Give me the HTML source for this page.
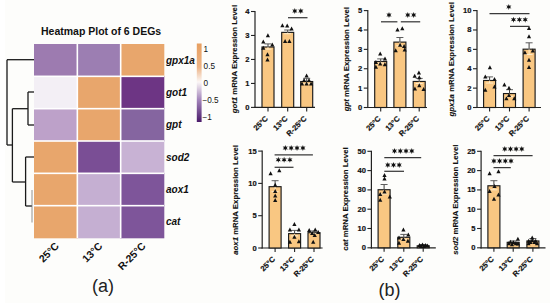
<!DOCTYPE html>
<html><head><meta charset="utf-8"><title>Heatmap and bar charts</title>
<style>
html,body{margin:0;padding:0;background:#fff;}
body{width:550px;height:303px;overflow:hidden;}
svg{display:block;}
text{font-family:"Liberation Sans", sans-serif;}
</style></head><body>
<svg width="550" height="303" viewBox="0 0 550 303">
<rect x="0" y="0" width="550" height="303" fill="#FDFDFB"/><rect x="0" y="0" width="5" height="303" fill="#fff"/>

<text x="41" y="34.8" font-size="10.5" font-weight="bold" fill="#111">Heatmap Plot of 6 DEGs</text>
<rect x="34.00" y="44.00" width="43.63" height="32.63" fill="#9D7BB0"/>
<rect x="77.33" y="44.00" width="43.63" height="32.63" fill="#9C7EB2"/>
<rect x="120.67" y="44.00" width="43.63" height="32.63" fill="#E8A66C"/>
<rect x="34.00" y="76.33" width="43.63" height="32.63" fill="#F3EFF5"/>
<rect x="77.33" y="76.33" width="43.63" height="32.63" fill="#E8A66C"/>
<rect x="120.67" y="76.33" width="43.63" height="32.63" fill="#6D3584"/>
<rect x="34.00" y="108.67" width="43.63" height="32.63" fill="#BDA1C9"/>
<rect x="77.33" y="108.67" width="43.63" height="32.63" fill="#E8A66C"/>
<rect x="120.67" y="108.67" width="43.63" height="32.63" fill="#8565A0"/>
<rect x="34.00" y="141.00" width="43.63" height="32.63" fill="#E8A66C"/>
<rect x="77.33" y="141.00" width="43.63" height="32.63" fill="#7A4E95"/>
<rect x="120.67" y="141.00" width="43.63" height="32.63" fill="#C8B2D4"/>
<rect x="34.00" y="173.33" width="43.63" height="32.63" fill="#E8A66C"/>
<rect x="77.33" y="173.33" width="43.63" height="32.63" fill="#C5AFD2"/>
<rect x="120.67" y="173.33" width="43.63" height="32.63" fill="#7E559A"/>
<rect x="34.00" y="205.67" width="43.63" height="32.63" fill="#E8A66C"/>
<rect x="77.33" y="205.67" width="43.63" height="32.63" fill="#C5AFD2"/>
<rect x="120.67" y="205.67" width="43.63" height="32.63" fill="#7E559A"/>
<rect x="76.53" y="44" width="1.6" height="194" fill="#fff"/>
<rect x="119.87" y="44" width="1.6" height="194" fill="#fff"/>
<rect x="34" y="75.53" width="130" height="1.6" fill="#fff"/>
<rect x="34" y="107.87" width="130" height="1.6" fill="#fff"/>
<rect x="34" y="140.20" width="130" height="1.6" fill="#fff"/>
<rect x="34" y="172.53" width="130" height="1.6" fill="#fff"/>
<rect x="34" y="204.87" width="130" height="1.6" fill="#fff"/>
<text x="166" y="63.77" font-size="10" font-weight="bold" font-style="italic" fill="#111">gpx1a</text>
<text x="166" y="96.10" font-size="10" font-weight="bold" font-style="italic" fill="#111">got1</text>
<text x="166" y="128.43" font-size="10" font-weight="bold" font-style="italic" fill="#111">gpt</text>
<text x="166" y="160.77" font-size="10" font-weight="bold" font-style="italic" fill="#111">sod2</text>
<text x="166" y="193.10" font-size="10" font-weight="bold" font-style="italic" fill="#111">aox1</text>
<text x="166" y="225.43" font-size="10" font-weight="bold" font-style="italic" fill="#111">cat</text>
<text x="59.67" y="246.60" font-size="10.4" font-weight="bold" fill="#111" text-anchor="end" transform="rotate(-45 59.67 246.60)">25°C</text>
<text x="103.00" y="246.60" font-size="10.4" font-weight="bold" fill="#111" text-anchor="end" transform="rotate(-45 103.00 246.60)">13°C</text>
<text x="146.33" y="246.60" font-size="10.4" font-weight="bold" fill="#111" text-anchor="end" transform="rotate(-45 146.33 246.60)">R-25°C</text>
<line x1="7" y1="59.7" x2="7" y2="145" stroke="#1a1a1a" stroke-width="1.3"/>
<line x1="7" y1="59.7" x2="34" y2="59.7" stroke="#1a1a1a" stroke-width="1.3"/>
<line x1="7" y1="145" x2="12.4" y2="145" stroke="#1a1a1a" stroke-width="1.3"/>
<line x1="12.4" y1="108.7" x2="12.4" y2="182" stroke="#1a1a1a" stroke-width="1.3"/>
<line x1="12.4" y1="108.7" x2="28" y2="108.7" stroke="#1a1a1a" stroke-width="1.3"/>
<line x1="12.4" y1="182" x2="25.6" y2="182" stroke="#1a1a1a" stroke-width="1.3"/>
<line x1="28" y1="92" x2="28" y2="125" stroke="#1a1a1a" stroke-width="1.3"/>
<line x1="28" y1="92" x2="34" y2="92" stroke="#1a1a1a" stroke-width="1.3"/>
<line x1="28" y1="125" x2="34" y2="125" stroke="#1a1a1a" stroke-width="1.3"/>
<line x1="25.6" y1="157" x2="25.6" y2="206" stroke="#1a1a1a" stroke-width="1.3"/>
<line x1="25.6" y1="157" x2="34" y2="157" stroke="#1a1a1a" stroke-width="1.3"/>
<line x1="25.6" y1="206" x2="32" y2="206" stroke="#1a1a1a" stroke-width="1.3"/>
<line x1="32" y1="190" x2="32" y2="222.5" stroke="#777" stroke-width="0.8"/>
<defs><linearGradient id="cb" x1="0" y1="0" x2="0" y2="1">
<stop offset="0" stop-color="#E79F60"/>
<stop offset="0.3" stop-color="#ECB385"/>
<stop offset="0.49" stop-color="#FBF7F6"/>
<stop offset="0.72" stop-color="#A284BA"/>
<stop offset="1" stop-color="#4A1A6A"/>
</linearGradient></defs>
<rect x="196.8" y="43.5" width="4.8" height="78.5" fill="url(#cb)"/>
<text x="203.6" y="51.9" font-size="8.2" fill="#111">1</text>
<text x="203.6" y="68.9" font-size="8.2" fill="#111">0.5</text>
<text x="203.6" y="85.8" font-size="8.2" fill="#111">0</text>
<text x="202.4" y="102.9" font-size="8.2" fill="#111">−0.5</text>
<text x="202.4" y="120.1" font-size="8.2" fill="#111">−1</text>
<text x="92" y="292" font-size="18" fill="#222">(a)</text>
<text x="378.5" y="295.8" font-size="18" fill="#222">(b)</text>
<line x1="255" y1="10.9" x2="255" y2="108.0" stroke="#222" stroke-width="1.2"/>
<line x1="254.4" y1="107.4" x2="315" y2="107.4" stroke="#222" stroke-width="1.2"/>
<line x1="251" y1="107.40" x2="255" y2="107.40" stroke="#222" stroke-width="1.1"/>
<text x="249.5" y="109.90" font-size="7.6" font-weight="bold" fill="#111" stroke="#111" stroke-width="0.18" text-anchor="end">0</text>
<line x1="251" y1="83.43" x2="255" y2="83.43" stroke="#222" stroke-width="1.1"/>
<text x="249.5" y="85.93" font-size="7.6" font-weight="bold" fill="#111" stroke="#111" stroke-width="0.18" text-anchor="end">1</text>
<line x1="251" y1="59.45" x2="255" y2="59.45" stroke="#222" stroke-width="1.1"/>
<text x="249.5" y="61.95" font-size="7.6" font-weight="bold" fill="#111" stroke="#111" stroke-width="0.18" text-anchor="end">2</text>
<line x1="251" y1="35.47" x2="255" y2="35.47" stroke="#222" stroke-width="1.1"/>
<text x="249.5" y="37.97" font-size="7.6" font-weight="bold" fill="#111" stroke="#111" stroke-width="0.18" text-anchor="end">3</text>
<line x1="251" y1="11.50" x2="255" y2="11.50" stroke="#222" stroke-width="1.1"/>
<text x="249.5" y="14.00" font-size="7.6" font-weight="bold" fill="#111" stroke="#111" stroke-width="0.18" text-anchor="end">4</text>
<rect x="262.00" y="47.00" width="12.0" height="60.40" fill="#F9C782" stroke="#1a1a1a" stroke-width="1.15"/>
<line x1="268.00" y1="107.4" x2="268.00" y2="111.4" stroke="#222" stroke-width="1.1"/>
<rect x="281.70" y="32.38" width="12.0" height="75.02" fill="#F9C782" stroke="#1a1a1a" stroke-width="1.15"/>
<line x1="287.70" y1="107.4" x2="287.70" y2="111.4" stroke="#222" stroke-width="1.1"/>
<rect x="300.70" y="81.53" width="12.0" height="25.87" fill="#F9C782" stroke="#1a1a1a" stroke-width="1.15"/>
<line x1="306.70" y1="107.4" x2="306.70" y2="111.4" stroke="#222" stroke-width="1.1"/>
<text x="268.50" y="119.10" font-size="7.6" font-weight="bold" fill="#111" stroke="#111" stroke-width="0.18" text-anchor="end" transform="rotate(-45 268.50 119.10)">25°C</text>
<text x="288.20" y="119.10" font-size="7.6" font-weight="bold" fill="#111" stroke="#111" stroke-width="0.18" text-anchor="end" transform="rotate(-45 288.20 119.10)">13°C</text>
<text x="307.20" y="119.10" font-size="7.6" font-weight="bold" fill="#111" stroke="#111" stroke-width="0.18" text-anchor="end" transform="rotate(-45 307.20 119.10)">R-25°C</text>
<text x="236.80" y="59.10" font-size="7.8" font-weight="bold" fill="#111" stroke="#111" stroke-width="0.12" text-anchor="middle" transform="rotate(-90 236.80 59.10)"><tspan font-style="italic">got1</tspan> mRNA Expression Level</text>
<line x1="367.8" y1="10.0" x2="367.8" y2="108.1" stroke="#222" stroke-width="1.2"/>
<line x1="367.2" y1="107.5" x2="427" y2="107.5" stroke="#222" stroke-width="1.2"/>
<line x1="363.8" y1="107.50" x2="367.8" y2="107.50" stroke="#222" stroke-width="1.1"/>
<text x="362.3" y="110.00" font-size="7.6" font-weight="bold" fill="#111" stroke="#111" stroke-width="0.18" text-anchor="end">0</text>
<line x1="363.8" y1="88.12" x2="367.8" y2="88.12" stroke="#222" stroke-width="1.1"/>
<text x="362.3" y="90.62" font-size="7.6" font-weight="bold" fill="#111" stroke="#111" stroke-width="0.18" text-anchor="end">1</text>
<line x1="363.8" y1="68.74" x2="367.8" y2="68.74" stroke="#222" stroke-width="1.1"/>
<text x="362.3" y="71.24" font-size="7.6" font-weight="bold" fill="#111" stroke="#111" stroke-width="0.18" text-anchor="end">2</text>
<line x1="363.8" y1="49.36" x2="367.8" y2="49.36" stroke="#222" stroke-width="1.1"/>
<text x="362.3" y="51.86" font-size="7.6" font-weight="bold" fill="#111" stroke="#111" stroke-width="0.18" text-anchor="end">3</text>
<line x1="363.8" y1="29.98" x2="367.8" y2="29.98" stroke="#222" stroke-width="1.1"/>
<text x="362.3" y="32.48" font-size="7.6" font-weight="bold" fill="#111" stroke="#111" stroke-width="0.18" text-anchor="end">4</text>
<line x1="363.8" y1="10.60" x2="367.8" y2="10.60" stroke="#222" stroke-width="1.1"/>
<text x="362.3" y="13.10" font-size="7.6" font-weight="bold" fill="#111" stroke="#111" stroke-width="0.18" text-anchor="end">5</text>
<rect x="374.70" y="61.49" width="12.0" height="46.01" fill="#F9C782" stroke="#1a1a1a" stroke-width="1.15"/>
<line x1="380.70" y1="107.5" x2="380.70" y2="111.5" stroke="#222" stroke-width="1.1"/>
<rect x="393.90" y="42.11" width="12.0" height="65.39" fill="#F9C782" stroke="#1a1a1a" stroke-width="1.15"/>
<line x1="399.90" y1="107.5" x2="399.90" y2="111.5" stroke="#222" stroke-width="1.1"/>
<rect x="413.20" y="81.45" width="12.0" height="26.05" fill="#F9C782" stroke="#1a1a1a" stroke-width="1.15"/>
<line x1="419.20" y1="107.5" x2="419.20" y2="111.5" stroke="#222" stroke-width="1.1"/>
<text x="381.20" y="119.20" font-size="7.6" font-weight="bold" fill="#111" stroke="#111" stroke-width="0.18" text-anchor="end" transform="rotate(-45 381.20 119.20)">25°C</text>
<text x="400.40" y="119.20" font-size="7.6" font-weight="bold" fill="#111" stroke="#111" stroke-width="0.18" text-anchor="end" transform="rotate(-45 400.40 119.20)">13°C</text>
<text x="419.70" y="119.20" font-size="7.6" font-weight="bold" fill="#111" stroke="#111" stroke-width="0.18" text-anchor="end" transform="rotate(-45 419.70 119.20)">R-25°C</text>
<text x="349.00" y="59.10" font-size="7.8" font-weight="bold" fill="#111" stroke="#111" stroke-width="0.12" text-anchor="middle" transform="rotate(-90 349.00 59.10)"><tspan font-style="italic">gpt</tspan> mRNA Expression Level</text>
<line x1="477" y1="10.0" x2="477" y2="108.1" stroke="#222" stroke-width="1.2"/>
<line x1="476.4" y1="107.5" x2="541" y2="107.5" stroke="#222" stroke-width="1.2"/>
<line x1="473" y1="107.50" x2="477" y2="107.50" stroke="#222" stroke-width="1.1"/>
<text x="471.5" y="110.00" font-size="7.6" font-weight="bold" fill="#111" stroke="#111" stroke-width="0.18" text-anchor="end">0</text>
<line x1="473" y1="88.12" x2="477" y2="88.12" stroke="#222" stroke-width="1.1"/>
<text x="471.5" y="90.62" font-size="7.6" font-weight="bold" fill="#111" stroke="#111" stroke-width="0.18" text-anchor="end">2</text>
<line x1="473" y1="68.74" x2="477" y2="68.74" stroke="#222" stroke-width="1.1"/>
<text x="471.5" y="71.24" font-size="7.6" font-weight="bold" fill="#111" stroke="#111" stroke-width="0.18" text-anchor="end">4</text>
<line x1="473" y1="49.36" x2="477" y2="49.36" stroke="#222" stroke-width="1.1"/>
<text x="471.5" y="51.86" font-size="7.6" font-weight="bold" fill="#111" stroke="#111" stroke-width="0.18" text-anchor="end">6</text>
<line x1="473" y1="29.98" x2="477" y2="29.98" stroke="#222" stroke-width="1.1"/>
<text x="471.5" y="32.48" font-size="7.6" font-weight="bold" fill="#111" stroke="#111" stroke-width="0.18" text-anchor="end">8</text>
<line x1="473" y1="10.60" x2="477" y2="10.60" stroke="#222" stroke-width="1.1"/>
<text x="471.5" y="13.10" font-size="7.6" font-weight="bold" fill="#111" stroke="#111" stroke-width="0.18" text-anchor="end">10</text>
<rect x="483.60" y="80.48" width="12.0" height="27.02" fill="#F9C782" stroke="#1a1a1a" stroke-width="1.15"/>
<line x1="489.60" y1="107.5" x2="489.60" y2="111.5" stroke="#222" stroke-width="1.1"/>
<rect x="503.50" y="93.56" width="12.0" height="13.94" fill="#F9C782" stroke="#1a1a1a" stroke-width="1.15"/>
<line x1="509.50" y1="107.5" x2="509.50" y2="111.5" stroke="#222" stroke-width="1.1"/>
<rect x="523.10" y="49.18" width="12.0" height="58.32" fill="#F9C782" stroke="#1a1a1a" stroke-width="1.15"/>
<line x1="529.10" y1="107.5" x2="529.10" y2="111.5" stroke="#222" stroke-width="1.1"/>
<text x="490.10" y="119.20" font-size="7.6" font-weight="bold" fill="#111" stroke="#111" stroke-width="0.18" text-anchor="end" transform="rotate(-45 490.10 119.20)">25°C</text>
<text x="510.00" y="119.20" font-size="7.6" font-weight="bold" fill="#111" stroke="#111" stroke-width="0.18" text-anchor="end" transform="rotate(-45 510.00 119.20)">13°C</text>
<text x="529.60" y="119.20" font-size="7.6" font-weight="bold" fill="#111" stroke="#111" stroke-width="0.18" text-anchor="end" transform="rotate(-45 529.60 119.20)">R-25°C</text>
<text x="453.60" y="59.30" font-size="7.8" font-weight="bold" fill="#111" stroke="#111" stroke-width="0.12" text-anchor="middle" transform="rotate(-90 453.60 59.30)"><tspan font-style="italic">gpx1a</tspan> mRNA Expression Level</text>
<line x1="262.2" y1="150.5" x2="262.2" y2="248.6" stroke="#222" stroke-width="1.2"/>
<line x1="261.59999999999997" y1="248" x2="322.6" y2="248" stroke="#222" stroke-width="1.2"/>
<line x1="258.2" y1="248.00" x2="262.2" y2="248.00" stroke="#222" stroke-width="1.1"/>
<text x="256.7" y="250.50" font-size="7.6" font-weight="bold" fill="#111" stroke="#111" stroke-width="0.18" text-anchor="end">0</text>
<line x1="258.2" y1="215.70" x2="262.2" y2="215.70" stroke="#222" stroke-width="1.1"/>
<text x="256.7" y="218.20" font-size="7.6" font-weight="bold" fill="#111" stroke="#111" stroke-width="0.18" text-anchor="end">5</text>
<line x1="258.2" y1="183.40" x2="262.2" y2="183.40" stroke="#222" stroke-width="1.1"/>
<text x="256.7" y="185.90" font-size="7.6" font-weight="bold" fill="#111" stroke="#111" stroke-width="0.18" text-anchor="end">10</text>
<line x1="258.2" y1="151.10" x2="262.2" y2="151.10" stroke="#222" stroke-width="1.1"/>
<text x="256.7" y="153.60" font-size="7.6" font-weight="bold" fill="#111" stroke="#111" stroke-width="0.18" text-anchor="end">15</text>
<rect x="269.10" y="186.68" width="12.0" height="61.32" fill="#F9C782" stroke="#1a1a1a" stroke-width="1.15"/>
<line x1="275.10" y1="248" x2="275.10" y2="252" stroke="#222" stroke-width="1.1"/>
<rect x="288.60" y="233.64" width="12.0" height="14.36" fill="#F9C782" stroke="#1a1a1a" stroke-width="1.15"/>
<line x1="294.60" y1="248" x2="294.60" y2="252" stroke="#222" stroke-width="1.1"/>
<rect x="308.00" y="232.67" width="12.0" height="15.33" fill="#F9C782" stroke="#1a1a1a" stroke-width="1.15"/>
<line x1="314.00" y1="248" x2="314.00" y2="252" stroke="#222" stroke-width="1.1"/>
<text x="275.60" y="259.70" font-size="7.6" font-weight="bold" fill="#111" stroke="#111" stroke-width="0.18" text-anchor="end" transform="rotate(-45 275.60 259.70)">25°C</text>
<text x="295.10" y="259.70" font-size="7.6" font-weight="bold" fill="#111" stroke="#111" stroke-width="0.18" text-anchor="end" transform="rotate(-45 295.10 259.70)">13°C</text>
<text x="314.50" y="259.70" font-size="7.6" font-weight="bold" fill="#111" stroke="#111" stroke-width="0.18" text-anchor="end" transform="rotate(-45 314.50 259.70)">R-25°C</text>
<text x="237.70" y="199.90" font-size="7.8" font-weight="bold" fill="#111" stroke="#111" stroke-width="0.12" text-anchor="middle" transform="rotate(-90 237.70 199.90)"><tspan font-style="italic">aox1</tspan> mRNA Expression Level</text>
<line x1="371.4" y1="150.70000000000002" x2="371.4" y2="248.4" stroke="#222" stroke-width="1.2"/>
<line x1="370.79999999999995" y1="247.8" x2="435.8" y2="247.8" stroke="#222" stroke-width="1.2"/>
<line x1="367.4" y1="247.80" x2="371.4" y2="247.80" stroke="#222" stroke-width="1.1"/>
<text x="365.9" y="250.30" font-size="7.6" font-weight="bold" fill="#111" stroke="#111" stroke-width="0.18" text-anchor="end">0</text>
<line x1="367.4" y1="228.50" x2="371.4" y2="228.50" stroke="#222" stroke-width="1.1"/>
<text x="365.9" y="231.00" font-size="7.6" font-weight="bold" fill="#111" stroke="#111" stroke-width="0.18" text-anchor="end">10</text>
<line x1="367.4" y1="209.20" x2="371.4" y2="209.20" stroke="#222" stroke-width="1.1"/>
<text x="365.9" y="211.70" font-size="7.6" font-weight="bold" fill="#111" stroke="#111" stroke-width="0.18" text-anchor="end">20</text>
<line x1="367.4" y1="189.90" x2="371.4" y2="189.90" stroke="#222" stroke-width="1.1"/>
<text x="365.9" y="192.40" font-size="7.6" font-weight="bold" fill="#111" stroke="#111" stroke-width="0.18" text-anchor="end">30</text>
<line x1="367.4" y1="170.60" x2="371.4" y2="170.60" stroke="#222" stroke-width="1.1"/>
<text x="365.9" y="173.10" font-size="7.6" font-weight="bold" fill="#111" stroke="#111" stroke-width="0.18" text-anchor="end">40</text>
<line x1="367.4" y1="151.30" x2="371.4" y2="151.30" stroke="#222" stroke-width="1.1"/>
<text x="365.9" y="153.80" font-size="7.6" font-weight="bold" fill="#111" stroke="#111" stroke-width="0.18" text-anchor="end">50</text>
<rect x="378.10" y="189.72" width="12.0" height="58.08" fill="#F9C782" stroke="#1a1a1a" stroke-width="1.15"/>
<line x1="384.10" y1="247.8" x2="384.10" y2="251.8" stroke="#222" stroke-width="1.1"/>
<rect x="397.80" y="237.30" width="12.0" height="10.50" fill="#F9C782" stroke="#1a1a1a" stroke-width="1.15"/>
<line x1="403.80" y1="247.8" x2="403.80" y2="251.8" stroke="#222" stroke-width="1.1"/>
<rect x="417.20" y="245.79" width="12.0" height="2.01" fill="#F9C782" stroke="#1a1a1a" stroke-width="1.15"/>
<line x1="423.20" y1="247.8" x2="423.20" y2="251.8" stroke="#222" stroke-width="1.1"/>
<text x="384.60" y="259.50" font-size="7.6" font-weight="bold" fill="#111" stroke="#111" stroke-width="0.18" text-anchor="end" transform="rotate(-45 384.60 259.50)">25°C</text>
<text x="404.30" y="259.50" font-size="7.6" font-weight="bold" fill="#111" stroke="#111" stroke-width="0.18" text-anchor="end" transform="rotate(-45 404.30 259.50)">13°C</text>
<text x="423.70" y="259.50" font-size="7.6" font-weight="bold" fill="#111" stroke="#111" stroke-width="0.18" text-anchor="end" transform="rotate(-45 423.70 259.50)">R-25°C</text>
<text x="347.70" y="199.00" font-size="7.8" font-weight="bold" fill="#111" stroke="#111" stroke-width="0.12" text-anchor="middle" transform="rotate(-90 347.70 199.00)"><tspan font-style="italic">cat</tspan> mRNA Expression Level</text>
<line x1="481.1" y1="150.70000000000002" x2="481.1" y2="248.4" stroke="#222" stroke-width="1.2"/>
<line x1="480.5" y1="247.8" x2="545.5" y2="247.8" stroke="#222" stroke-width="1.2"/>
<line x1="477.1" y1="247.80" x2="481.1" y2="247.80" stroke="#222" stroke-width="1.1"/>
<text x="475.6" y="250.30" font-size="7.6" font-weight="bold" fill="#111" stroke="#111" stroke-width="0.18" text-anchor="end">0</text>
<line x1="477.1" y1="228.50" x2="481.1" y2="228.50" stroke="#222" stroke-width="1.1"/>
<text x="475.6" y="231.00" font-size="7.6" font-weight="bold" fill="#111" stroke="#111" stroke-width="0.18" text-anchor="end">5</text>
<line x1="477.1" y1="209.20" x2="481.1" y2="209.20" stroke="#222" stroke-width="1.1"/>
<text x="475.6" y="211.70" font-size="7.6" font-weight="bold" fill="#111" stroke="#111" stroke-width="0.18" text-anchor="end">10</text>
<line x1="477.1" y1="189.90" x2="481.1" y2="189.90" stroke="#222" stroke-width="1.1"/>
<text x="475.6" y="192.40" font-size="7.6" font-weight="bold" fill="#111" stroke="#111" stroke-width="0.18" text-anchor="end">15</text>
<line x1="477.1" y1="170.60" x2="481.1" y2="170.60" stroke="#222" stroke-width="1.1"/>
<text x="475.6" y="173.10" font-size="7.6" font-weight="bold" fill="#111" stroke="#111" stroke-width="0.18" text-anchor="end">20</text>
<line x1="477.1" y1="151.30" x2="481.1" y2="151.30" stroke="#222" stroke-width="1.1"/>
<text x="475.6" y="153.80" font-size="7.6" font-weight="bold" fill="#111" stroke="#111" stroke-width="0.18" text-anchor="end">25</text>
<rect x="487.90" y="185.77" width="12.0" height="62.03" fill="#F9C782" stroke="#1a1a1a" stroke-width="1.15"/>
<line x1="493.90" y1="247.8" x2="493.90" y2="251.8" stroke="#222" stroke-width="1.1"/>
<rect x="507.20" y="242.32" width="12.0" height="5.48" fill="#F9C782" stroke="#1a1a1a" stroke-width="1.15"/>
<line x1="513.20" y1="247.8" x2="513.20" y2="251.8" stroke="#222" stroke-width="1.1"/>
<rect x="526.90" y="240.97" width="12.0" height="6.83" fill="#F9C782" stroke="#1a1a1a" stroke-width="1.15"/>
<line x1="532.90" y1="247.8" x2="532.90" y2="251.8" stroke="#222" stroke-width="1.1"/>
<text x="494.40" y="259.50" font-size="7.6" font-weight="bold" fill="#111" stroke="#111" stroke-width="0.18" text-anchor="end" transform="rotate(-45 494.40 259.50)">25°C</text>
<text x="513.70" y="259.50" font-size="7.6" font-weight="bold" fill="#111" stroke="#111" stroke-width="0.18" text-anchor="end" transform="rotate(-45 513.70 259.50)">13°C</text>
<text x="533.40" y="259.50" font-size="7.6" font-weight="bold" fill="#111" stroke="#111" stroke-width="0.18" text-anchor="end" transform="rotate(-45 533.40 259.50)">R-25°C</text>
<text x="457.70" y="199.70" font-size="7.8" font-weight="bold" fill="#111" stroke="#111" stroke-width="0.12" text-anchor="middle" transform="rotate(-90 457.70 199.70)"><tspan font-style="italic">sod2</tspan> mRNA Expression Level</text>
<line x1="268.00" y1="47.10" x2="268.00" y2="49.11" stroke="#FFF0D2" stroke-width="0.9"/>
<line x1="264.50" y1="49.11" x2="271.50" y2="49.11" stroke="#FFF0D2" stroke-width="0.9"/>
<line x1="268.00" y1="43.90" x2="268.00" y2="46.50" stroke="#333" stroke-width="0.95"/>
<line x1="264.50" y1="43.90" x2="271.50" y2="43.90" stroke="#555" stroke-width="0.95"/>
<path d="M265.80 37.30L267.90 33.30L270.00 37.30Z" fill="#111"/>
<path d="M261.20 43.50L263.30 39.50L265.40 43.50Z" fill="#111"/>
<path d="M270.20 46.50L272.30 42.50L274.40 46.50Z" fill="#111"/>
<path d="M261.20 49.70L263.30 45.70L265.40 49.70Z" fill="#111"/>
<path d="M265.40 56.30L267.50 52.30L269.60 56.30Z" fill="#111"/>
<path d="M265.40 61.60L267.50 57.60L269.60 61.60Z" fill="#111"/>
<line x1="287.70" y1="32.48" x2="287.70" y2="33.76" stroke="#FFF0D2" stroke-width="0.9"/>
<line x1="284.20" y1="33.76" x2="291.20" y2="33.76" stroke="#FFF0D2" stroke-width="0.9"/>
<line x1="287.70" y1="30.00" x2="287.70" y2="31.88" stroke="#333" stroke-width="0.95"/>
<line x1="284.20" y1="30.00" x2="291.20" y2="30.00" stroke="#555" stroke-width="0.95"/>
<path d="M280.30 27.20L282.40 23.20L284.50 27.20Z" fill="#111"/>
<path d="M285.10 27.60L287.20 23.60L289.30 27.60Z" fill="#111"/>
<path d="M289.50 30.60L291.60 26.60L293.70 30.60Z" fill="#111"/>
<path d="M283.00 42.90L285.10 38.90L287.20 42.90Z" fill="#111"/>
<path d="M287.30 42.90L289.40 38.90L291.50 42.90Z" fill="#111"/>
<line x1="306.70" y1="81.63" x2="306.70" y2="83.76" stroke="#FFF0D2" stroke-width="0.9"/>
<line x1="303.20" y1="83.76" x2="310.20" y2="83.76" stroke="#FFF0D2" stroke-width="0.9"/>
<line x1="306.70" y1="78.30" x2="306.70" y2="81.03" stroke="#333" stroke-width="0.95"/>
<line x1="303.20" y1="78.30" x2="310.20" y2="78.30" stroke="#555" stroke-width="0.95"/>
<path d="M304.50 77.60L306.60 73.60L308.70 77.60Z" fill="#111"/>
<path d="M302.00 81.90L304.10 77.90L306.20 81.90Z" fill="#111"/>
<path d="M306.90 81.90L309.00 77.90L311.10 81.90Z" fill="#111"/>
<path d="M299.90 85.60L302.00 81.60L304.10 85.60Z" fill="#111"/>
<path d="M304.50 85.60L306.60 81.60L308.70 85.60Z" fill="#111"/>
<path d="M309.00 85.60L311.10 81.60L313.20 85.60Z" fill="#111"/>
<line x1="380.70" y1="61.59" x2="380.70" y2="63.08" stroke="#FFF0D2" stroke-width="0.9"/>
<line x1="377.20" y1="63.08" x2="384.20" y2="63.08" stroke="#FFF0D2" stroke-width="0.9"/>
<line x1="380.70" y1="58.90" x2="380.70" y2="60.99" stroke="#333" stroke-width="0.95"/>
<line x1="377.20" y1="58.90" x2="384.20" y2="58.90" stroke="#555" stroke-width="0.95"/>
<path d="M378.10 55.60L380.20 51.60L382.30 55.60Z" fill="#111"/>
<path d="M382.90 60.60L385.00 56.60L387.10 60.60Z" fill="#111"/>
<path d="M373.80 63.90L375.90 59.90L378.00 63.90Z" fill="#111"/>
<path d="M378.10 65.50L380.20 61.50L382.30 65.50Z" fill="#111"/>
<path d="M373.80 68.80L375.90 64.80L378.00 68.80Z" fill="#111"/>
<path d="M382.80 66.20L384.90 62.20L387.00 66.20Z" fill="#111"/>
<line x1="399.90" y1="42.21" x2="399.90" y2="45.72" stroke="#FFF0D2" stroke-width="0.9"/>
<line x1="396.40" y1="45.72" x2="403.40" y2="45.72" stroke="#FFF0D2" stroke-width="0.9"/>
<line x1="399.90" y1="37.50" x2="399.90" y2="41.61" stroke="#333" stroke-width="0.95"/>
<line x1="396.40" y1="37.50" x2="403.40" y2="37.50" stroke="#555" stroke-width="0.95"/>
<path d="M395.40 31.60L397.50 27.60L399.60 31.60Z" fill="#111"/>
<path d="M400.20 30.30L402.30 26.30L404.40 30.30Z" fill="#111"/>
<path d="M398.00 46.80L400.10 42.80L402.20 46.80Z" fill="#111"/>
<path d="M402.00 48.10L404.10 44.10L406.20 48.10Z" fill="#111"/>
<path d="M402.60 51.40L404.70 47.40L406.80 51.40Z" fill="#111"/>
<path d="M393.60 52.30L395.70 48.30L397.80 52.30Z" fill="#111"/>
<line x1="419.20" y1="81.55" x2="419.20" y2="83.50" stroke="#FFF0D2" stroke-width="0.9"/>
<line x1="415.70" y1="83.50" x2="422.70" y2="83.50" stroke="#FFF0D2" stroke-width="0.9"/>
<line x1="419.20" y1="78.40" x2="419.20" y2="80.95" stroke="#333" stroke-width="0.95"/>
<line x1="415.70" y1="78.40" x2="422.70" y2="78.40" stroke="#555" stroke-width="0.95"/>
<path d="M416.80 74.50L418.90 70.50L421.00 74.50Z" fill="#111"/>
<path d="M412.60 77.80L414.70 73.80L416.80 77.80Z" fill="#111"/>
<path d="M417.20 79.30L419.30 75.30L421.40 79.30Z" fill="#111"/>
<path d="M417.20 87.30L419.30 83.30L421.40 87.30Z" fill="#111"/>
<path d="M412.80 90.50L414.90 86.50L417.00 90.50Z" fill="#111"/>
<path d="M421.50 90.90L423.60 86.90L425.70 90.90Z" fill="#111"/>
<line x1="489.60" y1="80.58" x2="489.60" y2="83.06" stroke="#FFF0D2" stroke-width="0.9"/>
<line x1="486.10" y1="83.06" x2="493.10" y2="83.06" stroke="#FFF0D2" stroke-width="0.9"/>
<line x1="489.60" y1="76.90" x2="489.60" y2="79.98" stroke="#333" stroke-width="0.95"/>
<line x1="486.10" y1="76.90" x2="493.10" y2="76.90" stroke="#555" stroke-width="0.95"/>
<path d="M487.80 69.30L489.90 65.30L492.00 69.30Z" fill="#111"/>
<path d="M483.20 78.50L485.30 74.50L487.40 78.50Z" fill="#111"/>
<path d="M492.40 81.10L494.50 77.10L496.60 81.10Z" fill="#111"/>
<path d="M483.20 91.70L485.30 87.70L487.40 91.70Z" fill="#111"/>
<path d="M492.40 88.40L494.50 84.40L496.60 88.40Z" fill="#111"/>
<line x1="509.50" y1="93.66" x2="509.50" y2="96.42" stroke="#FFF0D2" stroke-width="0.9"/>
<line x1="506.00" y1="96.42" x2="513.00" y2="96.42" stroke="#FFF0D2" stroke-width="0.9"/>
<line x1="509.50" y1="89.70" x2="509.50" y2="93.06" stroke="#333" stroke-width="0.95"/>
<line x1="506.00" y1="89.70" x2="513.00" y2="89.70" stroke="#555" stroke-width="0.95"/>
<path d="M502.30 86.40L504.40 82.40L506.50 86.40Z" fill="#111"/>
<path d="M506.90 89.70L509.00 85.70L511.10 89.70Z" fill="#111"/>
<path d="M506.90 97.00L509.00 93.00L511.10 97.00Z" fill="#111"/>
<path d="M512.20 100.30L514.30 96.30L516.40 100.30Z" fill="#111"/>
<path d="M504.30 100.30L506.40 96.30L508.50 100.30Z" fill="#111"/>
<line x1="529.10" y1="49.28" x2="529.10" y2="54.56" stroke="#FFF0D2" stroke-width="0.9"/>
<line x1="525.60" y1="54.56" x2="532.60" y2="54.56" stroke="#FFF0D2" stroke-width="0.9"/>
<line x1="529.10" y1="42.80" x2="529.10" y2="48.68" stroke="#333" stroke-width="0.95"/>
<line x1="525.60" y1="42.80" x2="532.60" y2="42.80" stroke="#555" stroke-width="0.95"/>
<path d="M526.90 30.00L529.00 26.00L531.10 30.00Z" fill="#111"/>
<path d="M526.90 38.20L529.00 34.20L531.10 38.20Z" fill="#111"/>
<path d="M522.80 54.20L524.90 50.20L527.00 54.20Z" fill="#111"/>
<path d="M530.70 52.60L532.80 48.60L534.90 52.60Z" fill="#111"/>
<path d="M526.90 61.70L529.00 57.70L531.10 61.70Z" fill="#111"/>
<path d="M526.90 69.10L529.00 65.10L531.10 69.10Z" fill="#111"/>
<line x1="275.10" y1="186.78" x2="275.10" y2="191.66" stroke="#FFF0D2" stroke-width="0.9"/>
<line x1="271.60" y1="191.66" x2="278.60" y2="191.66" stroke="#FFF0D2" stroke-width="0.9"/>
<line x1="275.10" y1="180.70" x2="275.10" y2="186.18" stroke="#333" stroke-width="0.95"/>
<line x1="271.60" y1="180.70" x2="278.60" y2="180.70" stroke="#555" stroke-width="0.95"/>
<path d="M268.50 175.30L270.60 171.30L272.70 175.30Z" fill="#111"/>
<path d="M277.20 172.30L279.30 168.30L281.40 172.30Z" fill="#111"/>
<path d="M273.10 186.80L275.20 182.80L277.30 186.80Z" fill="#111"/>
<path d="M273.10 193.10L275.20 189.10L277.30 193.10Z" fill="#111"/>
<path d="M273.10 197.50L275.20 193.50L277.30 197.50Z" fill="#111"/>
<path d="M273.10 202.10L275.20 198.10L277.30 202.10Z" fill="#111"/>
<line x1="294.60" y1="233.74" x2="294.60" y2="235.88" stroke="#FFF0D2" stroke-width="0.9"/>
<line x1="291.10" y1="235.88" x2="298.10" y2="235.88" stroke="#FFF0D2" stroke-width="0.9"/>
<line x1="294.60" y1="230.40" x2="294.60" y2="233.14" stroke="#333" stroke-width="0.95"/>
<line x1="291.10" y1="230.40" x2="298.10" y2="230.40" stroke="#555" stroke-width="0.95"/>
<path d="M292.30 226.00L294.40 222.00L296.50 226.00Z" fill="#111"/>
<path d="M287.80 231.40L289.90 227.40L292.00 231.40Z" fill="#111"/>
<path d="M296.80 231.40L298.90 227.40L301.00 231.40Z" fill="#111"/>
<path d="M292.30 238.80L294.40 234.80L296.50 238.80Z" fill="#111"/>
<path d="M287.80 243.80L289.90 239.80L292.00 243.80Z" fill="#111"/>
<path d="M296.80 243.30L298.90 239.30L301.00 243.30Z" fill="#111"/>
<line x1="314.00" y1="232.77" x2="314.00" y2="233.35" stroke="#FFF0D2" stroke-width="0.9"/>
<line x1="310.50" y1="233.35" x2="317.50" y2="233.35" stroke="#FFF0D2" stroke-width="0.9"/>
<line x1="314.00" y1="231.00" x2="314.00" y2="232.17" stroke="#333" stroke-width="0.95"/>
<line x1="310.50" y1="231.00" x2="317.50" y2="231.00" stroke="#555" stroke-width="0.95"/>
<path d="M307.10 231.90L309.20 227.90L311.30 231.90Z" fill="#111"/>
<path d="M313.10 231.40L315.20 227.40L317.30 231.40Z" fill="#111"/>
<path d="M316.10 233.90L318.20 229.90L320.30 233.90Z" fill="#111"/>
<path d="M310.10 234.90L312.20 230.90L314.30 234.90Z" fill="#111"/>
<path d="M312.60 236.90L314.70 232.90L316.80 236.90Z" fill="#111"/>
<path d="M311.10 243.80L313.20 239.80L315.30 243.80Z" fill="#111"/>
<line x1="384.10" y1="189.82" x2="384.10" y2="193.95" stroke="#FFF0D2" stroke-width="0.9"/>
<line x1="380.60" y1="193.95" x2="387.60" y2="193.95" stroke="#FFF0D2" stroke-width="0.9"/>
<line x1="384.10" y1="184.50" x2="384.10" y2="189.22" stroke="#333" stroke-width="0.95"/>
<line x1="380.60" y1="184.50" x2="387.60" y2="184.50" stroke="#555" stroke-width="0.95"/>
<path d="M382.40 176.90L384.50 172.90L386.60 176.90Z" fill="#111"/>
<path d="M382.40 180.50L384.50 176.50L386.60 180.50Z" fill="#111"/>
<path d="M378.10 195.90L380.20 191.90L382.30 195.90Z" fill="#111"/>
<path d="M387.70 198.40L389.80 194.40L391.90 198.40Z" fill="#111"/>
<path d="M378.10 201.70L380.20 197.70L382.30 201.70Z" fill="#111"/>
<path d="M382.40 193.40L384.50 189.40L386.60 193.40Z" fill="#111"/>
<line x1="403.80" y1="237.40" x2="403.80" y2="239.20" stroke="#FFF0D2" stroke-width="0.9"/>
<line x1="400.30" y1="239.20" x2="407.30" y2="239.20" stroke="#FFF0D2" stroke-width="0.9"/>
<line x1="403.80" y1="234.40" x2="403.80" y2="236.80" stroke="#333" stroke-width="0.95"/>
<line x1="400.30" y1="234.40" x2="407.30" y2="234.40" stroke="#555" stroke-width="0.95"/>
<path d="M401.30 231.50L403.40 227.50L405.50 231.50Z" fill="#111"/>
<path d="M406.20 236.40L408.30 232.40L410.40 236.40Z" fill="#111"/>
<path d="M396.90 239.40L399.00 235.40L401.10 239.40Z" fill="#111"/>
<path d="M401.30 240.90L403.40 236.90L405.50 240.90Z" fill="#111"/>
<path d="M396.90 244.80L399.00 240.80L401.10 244.80Z" fill="#111"/>
<path d="M405.80 242.80L407.90 238.80L410.00 242.80Z" fill="#111"/>
<line x1="423.20" y1="244.50" x2="423.20" y2="245.29" stroke="#333" stroke-width="0.95"/>
<line x1="419.70" y1="244.50" x2="426.70" y2="244.50" stroke="#555" stroke-width="0.95"/>
<path d="M417.40 247.00L419.50 243.00L421.60 247.00Z" fill="#111"/>
<path d="M420.40 246.50L422.50 242.50L424.60 246.50Z" fill="#111"/>
<path d="M423.40 247.00L425.50 243.00L427.60 247.00Z" fill="#111"/>
<path d="M418.90 248.00L421.00 244.00L423.10 248.00Z" fill="#111"/>
<path d="M421.90 248.00L424.00 244.00L426.10 248.00Z" fill="#111"/>
<path d="M425.40 247.50L427.50 243.50L429.60 247.50Z" fill="#111"/>
<line x1="493.90" y1="185.87" x2="493.90" y2="189.84" stroke="#FFF0D2" stroke-width="0.9"/>
<line x1="490.40" y1="189.84" x2="497.40" y2="189.84" stroke="#FFF0D2" stroke-width="0.9"/>
<line x1="493.90" y1="180.70" x2="493.90" y2="185.27" stroke="#333" stroke-width="0.95"/>
<line x1="490.40" y1="180.70" x2="497.40" y2="180.70" stroke="#555" stroke-width="0.95"/>
<path d="M487.50 175.30L489.60 171.30L491.70 175.30Z" fill="#111"/>
<path d="M496.40 173.30L498.50 169.30L500.60 173.30Z" fill="#111"/>
<path d="M492.40 188.10L494.50 184.10L496.60 188.10Z" fill="#111"/>
<path d="M487.50 193.10L489.60 189.10L491.70 193.10Z" fill="#111"/>
<path d="M496.40 196.40L498.50 192.40L500.60 196.40Z" fill="#111"/>
<path d="M491.90 200.80L494.00 196.80L496.10 200.80Z" fill="#111"/>
<line x1="513.20" y1="240.90" x2="513.20" y2="241.82" stroke="#333" stroke-width="0.95"/>
<line x1="509.70" y1="240.90" x2="516.70" y2="240.90" stroke="#555" stroke-width="0.95"/>
<path d="M515.80 240.80L517.90 236.80L520.00 240.80Z" fill="#111"/>
<path d="M508.30 243.80L510.40 239.80L512.50 243.80Z" fill="#111"/>
<path d="M511.30 244.30L513.40 240.30L515.50 244.30Z" fill="#111"/>
<path d="M506.70 245.30L508.80 241.30L510.90 245.30Z" fill="#111"/>
<path d="M513.80 245.30L515.90 241.30L518.00 245.30Z" fill="#111"/>
<path d="M509.90 246.20L512.00 242.20L514.10 246.20Z" fill="#111"/>
<path d="M515.90 245.50L518.00 241.50L520.10 245.50Z" fill="#111"/>
<line x1="532.90" y1="238.50" x2="532.90" y2="240.47" stroke="#333" stroke-width="0.95"/>
<line x1="529.40" y1="238.50" x2="536.40" y2="238.50" stroke="#555" stroke-width="0.95"/>
<path d="M530.10 239.40L532.20 235.40L534.30 239.40Z" fill="#111"/>
<path d="M526.60 242.80L528.70 238.80L530.80 242.80Z" fill="#111"/>
<path d="M533.60 242.80L535.70 238.80L537.80 242.80Z" fill="#111"/>
<path d="M530.10 242.30L532.20 238.30L534.30 242.30Z" fill="#111"/>
<path d="M526.40 245.30L528.50 241.30L530.60 245.30Z" fill="#111"/>
<path d="M534.90 245.30L537.00 241.30L539.10 245.30Z" fill="#111"/>
<path d="M528.40 244.00L530.50 240.00L532.60 244.00Z" fill="#111"/>
<path d="M532.40 244.00L534.50 240.00L536.60 244.00Z" fill="#111"/>
<line x1="288" y1="17.7" x2="307.5" y2="17.7" stroke="#3a3a3a" stroke-width="1.25"/>
<polygon points="294.80,8.00 295.45,9.87 297.40,9.50 296.10,11.00 297.40,12.50 295.45,12.13 294.80,14.00 294.15,12.13 292.20,12.50 293.50,11.00 292.20,9.50 294.15,9.87" fill="#111"/><polygon points="300.80,8.00 301.45,9.87 303.40,9.50 302.10,11.00 303.40,12.50 301.45,12.13 300.80,14.00 300.15,12.13 298.20,12.50 299.50,11.00 298.20,9.50 300.15,9.87" fill="#111"/>
<line x1="381" y1="21.8" x2="397.4" y2="21.8" stroke="#3a3a3a" stroke-width="1.25"/>
<polygon points="389.00,12.00 389.65,13.87 391.60,13.50 390.30,15.00 391.60,16.50 389.65,16.13 389.00,18.00 388.35,16.13 386.40,16.50 387.70,15.00 386.40,13.50 388.35,13.87" fill="#111"/>
<line x1="400.8" y1="21.8" x2="420.2" y2="21.8" stroke="#3a3a3a" stroke-width="1.25"/>
<polygon points="407.80,12.00 408.45,13.87 410.40,13.50 409.10,15.00 410.40,16.50 408.45,16.13 407.80,18.00 407.15,16.13 405.20,16.50 406.50,15.00 405.20,13.50 407.15,13.87" fill="#111"/><polygon points="413.70,12.00 414.35,13.87 416.30,13.50 415.00,15.00 416.30,16.50 414.35,16.13 413.70,18.00 413.05,16.13 411.10,16.50 412.40,15.00 411.10,13.50 413.05,13.87" fill="#111"/>
<line x1="489.5" y1="13.7" x2="529.5" y2="13.7" stroke="#3a3a3a" stroke-width="1.25"/>
<polygon points="508.80,3.90 509.45,5.77 511.40,5.40 510.10,6.90 511.40,8.40 509.45,8.03 508.80,9.90 508.15,8.03 506.20,8.40 507.50,6.90 506.20,5.40 508.15,5.77" fill="#111"/>
<line x1="510" y1="26.4" x2="529.5" y2="26.4" stroke="#3a3a3a" stroke-width="1.25"/>
<polygon points="513.50,16.70 514.15,18.57 516.10,18.20 514.80,19.70 516.10,21.20 514.15,20.83 513.50,22.70 512.85,20.83 510.90,21.20 512.20,19.70 510.90,18.20 512.85,18.57" fill="#111"/><polygon points="519.35,16.70 520.00,18.57 521.95,18.20 520.65,19.70 521.95,21.20 520.00,20.83 519.35,22.70 518.70,20.83 516.75,21.20 518.05,19.70 516.75,18.20 518.70,18.57" fill="#111"/><polygon points="525.20,16.70 525.85,18.57 527.80,18.20 526.50,19.70 527.80,21.20 525.85,20.83 525.20,22.70 524.55,20.83 522.60,21.20 523.90,19.70 522.60,18.20 524.55,18.57" fill="#111"/>
<line x1="274.6" y1="154.8" x2="312.9" y2="154.8" stroke="#3a3a3a" stroke-width="1.25"/>
<polygon points="285.30,145.00 285.95,146.87 287.90,146.50 286.60,148.00 287.90,149.50 285.95,149.13 285.30,151.00 284.65,149.13 282.70,149.50 284.00,148.00 282.70,146.50 284.65,146.87" fill="#111"/><polygon points="291.17,145.00 291.82,146.87 293.76,146.50 292.47,148.00 293.76,149.50 291.82,149.13 291.17,151.00 290.52,149.13 288.57,149.50 289.87,148.00 288.57,146.50 290.52,146.87" fill="#111"/><polygon points="297.03,145.00 297.68,146.87 299.63,146.50 298.33,148.00 299.63,149.50 297.68,149.13 297.03,151.00 296.38,149.13 294.44,149.50 295.73,148.00 294.44,146.50 296.38,146.87" fill="#111"/><polygon points="302.90,145.00 303.55,146.87 305.50,146.50 304.20,148.00 305.50,149.50 303.55,149.13 302.90,151.00 302.25,149.13 300.30,149.50 301.60,148.00 300.30,146.50 302.25,146.87" fill="#111"/>
<line x1="274.6" y1="167.3" x2="293.5" y2="167.3" stroke="#3a3a3a" stroke-width="1.25"/>
<polygon points="278.30,156.80 278.95,158.67 280.90,158.30 279.60,159.80 280.90,161.30 278.95,160.93 278.30,162.80 277.65,160.93 275.70,161.30 277.00,159.80 275.70,158.30 277.65,158.67" fill="#111"/><polygon points="284.10,156.80 284.75,158.67 286.70,158.30 285.40,159.80 286.70,161.30 284.75,160.93 284.10,162.80 283.45,160.93 281.50,161.30 282.80,159.80 281.50,158.30 283.45,158.67" fill="#111"/><polygon points="289.90,156.80 290.55,158.67 292.50,158.30 291.20,159.80 292.50,161.30 290.55,160.93 289.90,162.80 289.25,160.93 287.30,161.30 288.60,159.80 287.30,158.30 289.25,158.67" fill="#111"/>
<line x1="384.3" y1="157.7" x2="421.2" y2="157.7" stroke="#3a3a3a" stroke-width="1.25"/>
<polygon points="394.50,148.00 395.15,149.87 397.10,149.50 395.80,151.00 397.10,152.50 395.15,152.13 394.50,154.00 393.85,152.13 391.90,152.50 393.20,151.00 391.90,149.50 393.85,149.87" fill="#111"/><polygon points="400.27,148.00 400.92,149.87 402.86,149.50 401.57,151.00 402.86,152.50 400.92,152.13 400.27,154.00 399.62,152.13 397.67,152.50 398.97,151.00 397.67,149.50 399.62,149.87" fill="#111"/><polygon points="406.03,148.00 406.68,149.87 408.63,149.50 407.33,151.00 408.63,152.50 406.68,152.13 406.03,154.00 405.38,152.13 403.44,152.50 404.73,151.00 403.44,149.50 405.38,149.87" fill="#111"/><polygon points="411.80,148.00 412.45,149.87 414.40,149.50 413.10,151.00 414.40,152.50 412.45,152.13 411.80,154.00 411.15,152.13 409.20,152.50 410.50,151.00 409.20,149.50 411.15,149.87" fill="#111"/>
<line x1="384.3" y1="171.3" x2="404" y2="171.3" stroke="#3a3a3a" stroke-width="1.25"/>
<polygon points="387.80,162.00 388.45,163.87 390.40,163.50 389.10,165.00 390.40,166.50 388.45,166.13 387.80,168.00 387.15,166.13 385.20,166.50 386.50,165.00 385.20,163.50 387.15,163.87" fill="#111"/><polygon points="393.50,162.00 394.15,163.87 396.10,163.50 394.80,165.00 396.10,166.50 394.15,166.13 393.50,168.00 392.85,166.13 390.90,166.50 392.20,165.00 390.90,163.50 392.85,163.87" fill="#111"/><polygon points="399.20,162.00 399.85,163.87 401.80,163.50 400.50,165.00 401.80,166.50 399.85,166.13 399.20,168.00 398.55,166.13 396.60,166.50 397.90,165.00 396.60,163.50 398.55,163.87" fill="#111"/>
<line x1="493.5" y1="155.5" x2="532.6" y2="155.5" stroke="#3a3a3a" stroke-width="1.25"/>
<polygon points="504.80,146.00 505.45,147.87 507.40,147.50 506.10,149.00 507.40,150.50 505.45,150.13 504.80,152.00 504.15,150.13 502.20,150.50 503.50,149.00 502.20,147.50 504.15,147.87" fill="#111"/><polygon points="510.47,146.00 511.12,147.87 513.06,147.50 511.77,149.00 513.06,150.50 511.12,150.13 510.47,152.00 509.82,150.13 507.87,150.50 509.17,149.00 507.87,147.50 509.82,147.87" fill="#111"/><polygon points="516.13,146.00 516.78,147.87 518.73,147.50 517.43,149.00 518.73,150.50 516.78,150.13 516.13,152.00 515.48,150.13 513.54,150.50 514.83,149.00 513.54,147.50 515.48,147.87" fill="#111"/><polygon points="521.80,146.00 522.45,147.87 524.40,147.50 523.10,149.00 524.40,150.50 522.45,150.13 521.80,152.00 521.15,150.13 519.20,150.50 520.50,149.00 519.20,147.50 521.15,147.87" fill="#111"/>
<line x1="493.5" y1="167.6" x2="510.8" y2="167.6" stroke="#3a3a3a" stroke-width="1.25"/>
<polygon points="493.90,158.00 494.55,159.87 496.50,159.50 495.20,161.00 496.50,162.50 494.55,162.13 493.90,164.00 493.25,162.13 491.30,162.50 492.60,161.00 491.30,159.50 493.25,159.87" fill="#111"/><polygon points="499.60,158.00 500.25,159.87 502.20,159.50 500.90,161.00 502.20,162.50 500.25,162.13 499.60,164.00 498.95,162.13 497.00,162.50 498.30,161.00 497.00,159.50 498.95,159.87" fill="#111"/><polygon points="505.30,158.00 505.95,159.87 507.90,159.50 506.60,161.00 507.90,162.50 505.95,162.13 505.30,164.00 504.65,162.13 502.70,162.50 504.00,161.00 502.70,159.50 504.65,159.87" fill="#111"/><polygon points="511.00,158.00 511.65,159.87 513.60,159.50 512.30,161.00 513.60,162.50 511.65,162.13 511.00,164.00 510.35,162.13 508.40,162.50 509.70,161.00 508.40,159.50 510.35,159.87" fill="#111"/>
</svg></body></html>
